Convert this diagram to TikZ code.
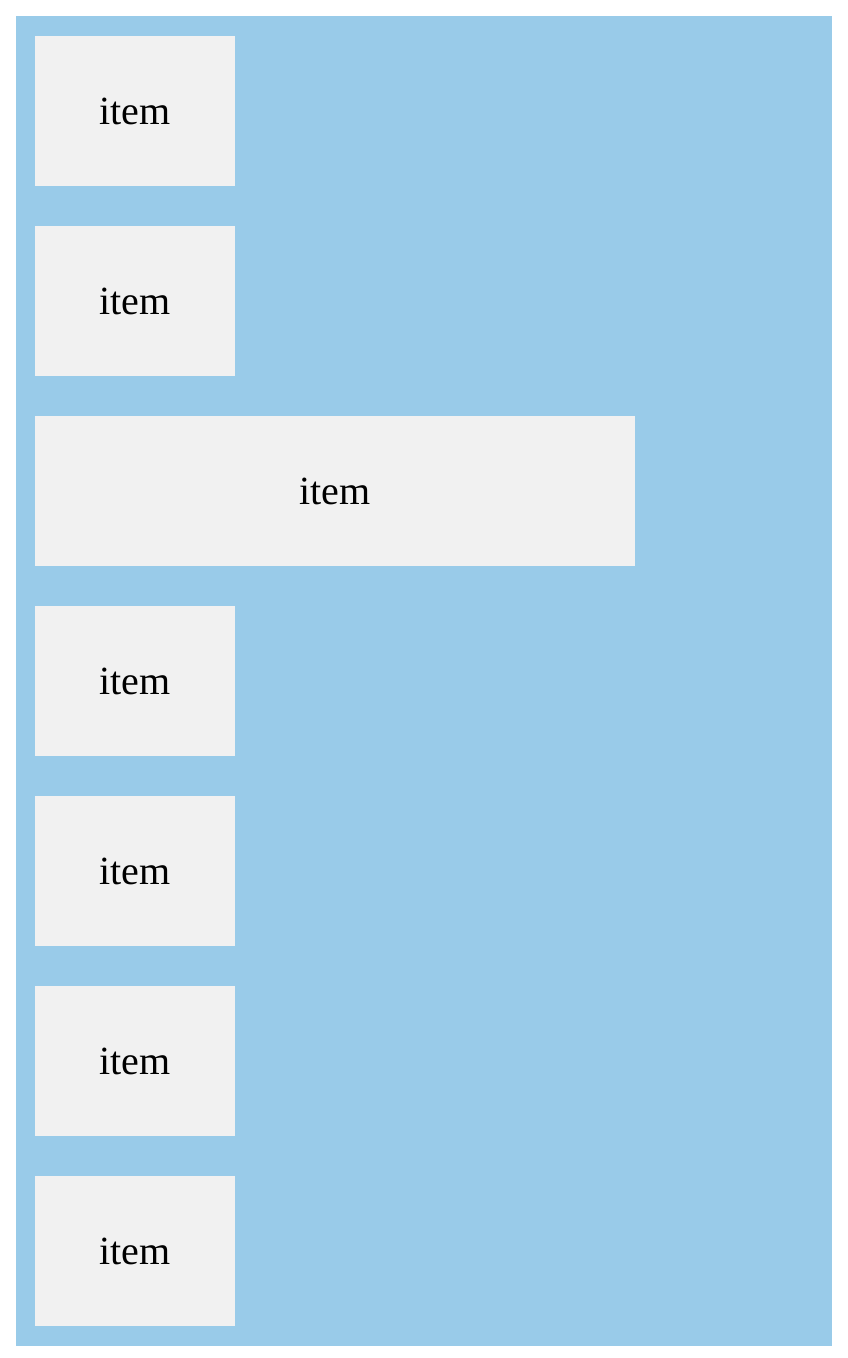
\documentclass[tikz,border=0pt]{standalone}
\usepackage{fontspec}
\setmainfont{Liberation Serif}
\definecolor{boxblue}{RGB}{153,203,233}
\definecolor{itemgray}{RGB}{241,241,241}
\tikzset{
  itembox/.style={fill=itemgray, inner sep=0pt, minimum height=150pt,
    minimum width=200pt, anchor=north west, font=\fontsize{40}{48}\selectfont}
}
\begin{document}
\begin{tikzpicture}[x=1pt,y=-1pt]
  \useasboundingbox (0,0) rectangle (848,1358);
  \fill[boxblue] (16,16) rectangle (832,1346);
  \foreach \i in {0,1,3,4,5,6}
    \node[itembox] (item\i) at (35,36+190*\i) {item};
  \node[itembox, minimum width=600pt] (item2) at (35,416) {item};
\end{tikzpicture}
\end{document}
